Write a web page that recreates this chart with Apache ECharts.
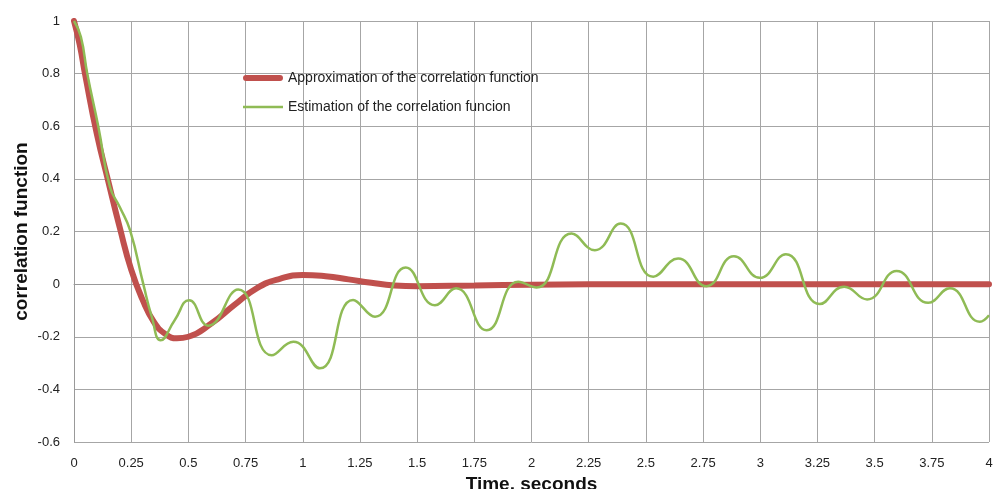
<!DOCTYPE html>
<html>
<head>
<meta charset="utf-8">
<script src="https://cdn.jsdelivr.net/npm/echarts@6/dist/echarts.min.js"></script>
<style>
  html, body { margin: 0; padding: 0; background: #fff; }
  #chart { width: 994px; height: 489px; }
</style>
</head>
<body>
<div id="chart"></div>
<script>
// time (s) and value pairs
const approxTime = [0, 0.025, 0.05, 0.1, 0.15, 0.2, 0.25, 0.3, 0.35, 0.4, 0.45, 0.5, 0.6, 0.7, 0.8, 0.9, 1.0, 1.1, 1.2, 1.3, 1.4, 1.5, 1.75, 2, 2.5, 3, 3.5, 4];
const approxValue = [1, 0.91, 0.79, 0.57, 0.39, 0.215, 0.055, -0.06, -0.145, -0.19, -0.206, -0.2, -0.15, -0.08, -0.015, 0.02, 0.035, 0.03, 0.018, 0.005, -0.005, -0.008, -0.005, -0.002, 0, 0, 0, 0];

const estTime = [0, 0.03, 0.058, 0.106, 0.157, 0.2, 0.245, 0.303, 0.34, 0.379, 0.44, 0.503, 0.587, 0.718, 0.864, 0.959, 1.075, 1.22, 1.316, 1.45, 1.578, 1.67, 1.804, 1.942, 2.022, 2.175, 2.277, 2.39, 2.532, 2.641, 2.765, 2.885, 2.998, 3.112, 3.26, 3.367, 3.467, 3.596, 3.734, 3.829, 3.96, 4.0];
const estValue = [1, 0.94, 0.8, 0.6, 0.37, 0.293, 0.205, 0, -0.124, -0.213, -0.137, -0.061, -0.158, -0.02, -0.27, -0.219, -0.32, -0.06, -0.124, 0.063, -0.08, -0.016, -0.175, 0.009, -0.013, 0.192, 0.129, 0.23, 0.028, 0.097, -0.008, 0.106, 0.024, 0.114, -0.076, -0.01, -0.058, 0.05, -0.071, -0.016, -0.143, -0.118];

const seriesNames = ['Approximation of the correlation function', 'Estimation of the correlation funcion'];

const font = '"Liberation Sans", Arial, sans-serif';
const chart = echarts.init(document.getElementById('chart'));

chart.setOption({
  animation: false,
  backgroundColor: '#fff',
  grid: { left: 74, right: 5, top: 21, bottom: 47, outerBoundsMode: 'none', containLabel: false },
  legend: {
    orient: 'vertical', left: 238, top: 66, itemGap: 15, itemWidth: 40, itemHeight: 14,
    data: [
      // thick rounded red bar, thin green bar; the tiny end segments fix the 14px box
      { name: seriesNames[0], icon: 'path://M3,4L37,4A3,3,0,0,1,37,10L3,10A3,3,0,0,1,3,4Z M0,0L0.01,0 M0,14L0.01,14' },
      { name: seriesNames[1], icon: 'path://M0,5.7L40,5.7L40,8.3L0,8.3Z M0,0L0.01,0 M0,14L0.01,14' }
    ],
    textStyle: { fontFamily: font, fontSize: 14, color: '#222' }
  },
  xAxis: {
    type: 'value', min: 0, max: 4, interval: 0.25,
    name: 'Time, seconds', nameLocation: 'middle', nameGap: 30,
    nameTextStyle: { fontFamily: font, fontSize: 19, fontWeight: 'bold', color: '#111' },
    axisLine: { lineStyle: { color: '#999' } },
    axisTick: { show: false },
    axisLabel: { fontFamily: font, fontSize: 13, color: '#222', margin: 15 },
    splitLine: { lineStyle: { color: '#a6a6a6' } }
  },
  yAxis: {
    type: 'value', min: -0.6, max: 1, interval: 0.2,
    name: 'correlation function', nameLocation: 'middle', nameGap: 43, nameMoveOverlap: false,
    nameTextStyle: { fontFamily: font, fontSize: 19, fontWeight: 'bold', color: '#111' },
    axisLine: { show: true, lineStyle: { color: '#999' } },
    axisTick: { show: false },
    axisLabel: { fontFamily: font, fontSize: 13, color: '#222', margin: 14,
      formatter: v => String(Math.round(v * 10) / 10) },
    splitLine: { lineStyle: { color: '#a6a6a6' } }
  },
  series: [
    {
      name: seriesNames[0], type: 'line', smooth: 0.5, showSymbol: false, symbol: 'none',
      data: approxTime.map((t, i) => [t, approxValue[i]]),
      lineStyle: { color: '#c0504d', width: 6, cap: 'round' },
      itemStyle: { color: '#c0504d' }
    },
    {
      name: seriesNames[1], type: 'line', smooth: 0.5, showSymbol: false, symbol: 'none',
      data: estTime.map((t, i) => [t, estValue[i]]),
      lineStyle: { color: '#8fbb55', width: 2.5 },
      itemStyle: { color: '#8fbb55' }
    }
  ]
});
</script>
</body>
</html>
